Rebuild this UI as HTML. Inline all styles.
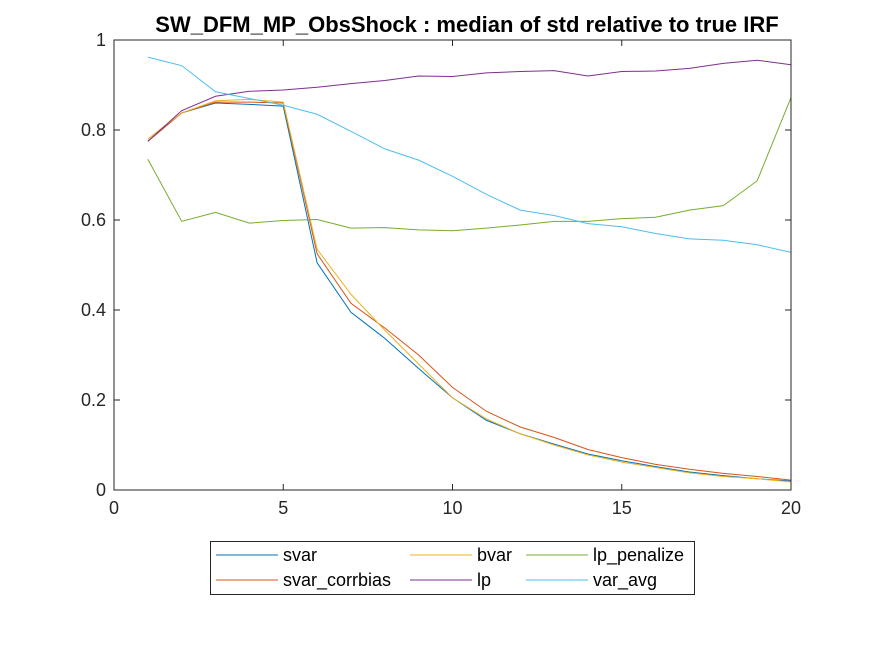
<!DOCTYPE html>
<html><head><meta charset="utf-8"><style>
body{margin:0;background:#fff;}
svg{display:block;font-family:"Liberation Sans",Arial,sans-serif;}
</style></head><body>
<svg id="chart" width="875" height="656"></svg>
<script>
const xs=[1,2,3,4,5,6,7,8,9,10,11,12,13,14,15,16,17,18,19,20];
const svar=[.775,.838,.86,.857,.853,.505,.395,.337,.27,.205,.155,.125,.102,.08,.065,.052,.04,.032,.025,.02];
const svarCorrbias=[.775,.838,.862,.862,.86,.525,.415,.36,.3,.228,.175,.14,.117,.09,.072,.057,.046,.037,.03,.022];
const bvar=[.78,.838,.865,.868,.862,.535,.435,.355,.28,.205,.158,.125,.1,.078,.062,.05,.038,.03,.025,.018];
const lp=[.775,.843,.875,.886,.889,.895,.903,.91,.92,.919,.927,.93,.932,.92,.93,.931,.937,.948,.955,.945];
const varAvg=[.962,.943,.885,.87,.855,.835,.797,.758,.733,.697,.657,.622,.61,.592,.585,.57,.558,.555,.545,.528];
const lpPenalize=[.735,.597,.617,.593,.599,.601,.582,.583,.578,.576,.582,.589,.597,.597,.603,.606,.622,.632,.687,.872];
const xTicks=[0,5,10,15,20];
const yTicks=[0,0.2,0.4,0.6,0.8,1];
const yTickLabels=['0','0.2','0.4','0.6','0.8','1'];
const L=114,R=791,T=40,B=490;
const X=v=>L+(v-0)/(20-0)*(R-L);
const Y=v=>B-(v-0)/(1-0)*(B-T);
const NS='http://www.w3.org/2000/svg';
const svg=document.getElementById('chart');
function mk(t,a,p){const e=document.createElementNS(NS,t);for(const k in a)e.setAttribute(k,a[k]);(p||svg).appendChild(e);return e;}
const bg=mk('rect',{x:L,y:T,width:R-L,height:B-T,fill:'#fff'});


const series=[
 ['svar',svar,'#0072BD'],['svar_corrbias',svarCorrbias,'#D95319'],['bvar',bvar,'#EDB120'],
 ['lp',lp,'#7E2F8E'],['lp_penalize',lpPenalize,'#77AC30'],['var_avg',varAvg,'#4DBEEE']];
series.forEach(s=>{
 const p=mk('polyline',{points:s[1].map((v,i)=>X(xs[i])+','+Y(v)).join(' '),fill:'none',stroke:s[2],'stroke-width':1});
 
 
});
const box=mk('rect',{x:L,y:T,width:R-L,height:B-T,fill:'none',stroke:'#262626','stroke-width':1});


xTicks.forEach(t=>{
 mk('line',{x1:X(t),x2:X(t),y1:B,y2:B-6,stroke:'#262626'});
 mk('line',{x1:X(t),x2:X(t),y1:T,y2:T+6,stroke:'#262626'});
 const tx=mk('text',{x:X(t),y:B+24,'text-anchor':'middle','font-size':18,fill:'#262626'});
 tx.textContent=t;
 
 
});
yTicks.forEach((t,i)=>{
 mk('line',{x1:L,x2:L+6,y1:Y(t),y2:Y(t),stroke:'#262626'});
 mk('line',{x1:R,x2:R-6,y1:Y(t),y2:Y(t),stroke:'#262626'});
 const tx=mk('text',{x:L-8,y:Y(t)+6,'text-anchor':'end','font-size':18,fill:'#262626'});
 tx.textContent=yTickLabels[i];
 
 
});
const title=mk('text',{x:467,y:32,'text-anchor':'middle','font-size':22,'font-weight':'bold',fill:'#000'});
title.textContent='SW_DFM_MP_ObsShock : median of std relative to true IRF';


const lg=mk('g',{});


mk('rect',{x:210.5,y:541.5,width:484,height:53,fill:'#fff',stroke:'#262626'},lg);
const cols=[216,410,526],rows=[555,580];
const order=[[0,0,0],[2,1,0],[4,2,0],[1,0,1],[3,1,1],[5,2,1]];
order.forEach(o=>{
 const s=series[o[0]],x=cols[o[1]],y=rows[o[2]];
 const g=mk('g',{},lg);
 
 
 mk('line',{x1:x,x2:x+62,y1:y,y2:y,stroke:s[2]},g);
 const t=mk('text',{x:x+67,y:y+6,'font-size':18,fill:'#000'},g);
 t.textContent=s[0];
});
</script>
</body></html>
